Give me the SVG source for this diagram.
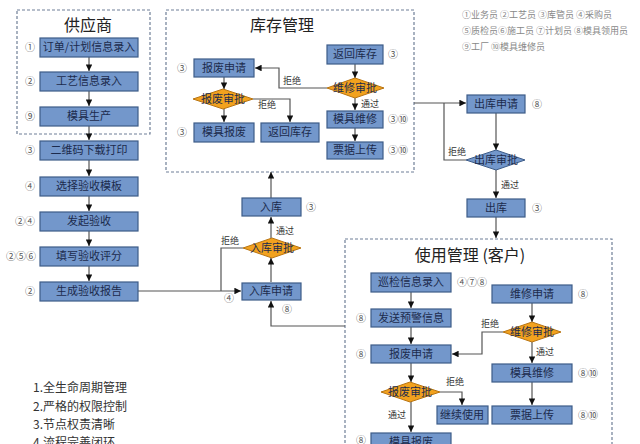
<svg xmlns="http://www.w3.org/2000/svg" width="640" height="444" viewBox="0 0 640 444">
<style>
text{font-family:"Noto Sans CJK SC","Noto Sans",sans-serif;}
.box{fill:none;stroke:#6f7f97;stroke-width:1.2;stroke-dasharray:3,2;}
.n{fill:#7397cb;stroke:#3d5c88;stroke-width:1.2;}
.d{fill:#f2a21e;stroke:#b87412;stroke-width:1;}
.db{fill:#7397cb;stroke:#3d5c88;stroke-width:1;}
.t{font-size:11px;fill:#1c2b4d;text-anchor:middle;}
.c{font-size:10px;fill:#555;}
.title{font-size:16px;fill:#222;text-anchor:middle;}
.lb{font-size:9px;fill:#333;}
.lg{font-size:9px;fill:#888;}
.list{font-size:12px;fill:#333;}
.ln{fill:none;stroke:#555;stroke-width:1.2;}
.a{marker-end:url(#ah);}
</style>
<defs>
<marker id="ah" viewBox="0 0 10 10" refX="10" refY="5" markerWidth="5.5" markerHeight="5.5" orient="auto"><path d="M0,0 L10,5 L0,10 z" fill="#111"/></marker>
</defs>
<rect width="640" height="444" fill="#fff"/>

<!-- containers -->
<g id="supplier-box">
<rect class="box" x="17" y="10" width="133" height="124"/>
<text class="title" x="88" y="31">供应商</text>
</g>
<g id="stock-box">
<rect class="box" x="166" y="10" width="248" height="162"/>
<text class="title" x="282" y="31">库存管理</text>
</g>
<g id="usage-box">
<rect class="box" x="345" y="239" width="267" height="220"/>
<text class="title" x="470" y="261">使用管理 (客户)</text>
</g>

<!-- legend -->
<g id="legend">
<text class="lg" x="462" y="18">①业务员 ②工艺员 ③库管员 ④采购员</text>
<text class="lg" x="462" y="34">⑤质检员⑥施工员 ⑦计划员 ⑧模具领用员</text>
<text class="lg" x="462" y="50">⑨工厂 ⑩模具维修员</text>
</g>

<g id="features">
<text class="list" x="33" y="392">1.全生命周期管理</text>
<text class="list" x="33" y="411">2.严格的权限控制</text>
<text class="list" x="33" y="429">3.节点权责清晰</text>
<text class="list" x="33" y="447">4.流程完善闭环</text>
</g>

<!-- connectors -->
<g id="connectors">
<path class="ln a" d="M89,57 V71"/>
<path class="ln a" d="M89,91 V106"/>
<path class="ln a" d="M89,126 V140"/>
<path class="ln a" d="M89,160 V176"/>
<path class="ln a" d="M89,196 V211"/>
<path class="ln a" d="M89,231 V246"/>
<path class="ln a" d="M89,266 V281"/>
<path class="ln a" d="M138,291 H241"/>
<path class="ln" d="M243,248 H221 V291"/>
<path class="ln a" d="M271,282 V258"/>
<path class="ln a" d="M271,238 V217"/>
<path class="ln a" d="M271,198 V172"/>
<path class="ln a" d="M345,326 H271 V301"/>
<!-- stock -->
<path class="ln a" d="M355,64 V78"/>
<path class="ln a" d="M355,98 V110"/>
<path class="ln a" d="M355,128 V141"/>
<path class="ln a" d="M327,88 H279 V68 H255"/>
<path class="ln a" d="M224,77 V89"/>
<path class="ln a" d="M224,109 V122"/>
<path class="ln a" d="M253,99 H290 V122"/>
<path class="ln a" d="M414,103 H466"/>
<path class="ln a" d="M496,113 V150"/>
<path class="ln" d="M466,160 H444 V103"/>
<path class="ln a" d="M496,170 V198"/>
<path class="ln a" d="M496,217 V238"/>
<!-- usage -->
<path class="ln a" d="M411,292 V308"/>
<path class="ln a" d="M411,327 V344"/>
<path class="ln a" d="M532,303 V322"/>
<path class="ln a" d="M503,332 H482 V354 H452"/>
<path class="ln a" d="M532,342 V363"/>
<path class="ln a" d="M532,382 V405"/>
<path class="ln a" d="M411,363 V382"/>
<path class="ln a" d="M440,392 H462 V405"/>
<path class="ln a" d="M411,402 V432"/>
<text class="lb" x="221" y="244">拒绝</text>
<text class="lb" x="276" y="234">通过</text>
<text class="lb" x="258" y="108">拒绝</text>
<text class="lb" x="283" y="84">拒绝</text>
<text class="lb" x="361" y="107">通过</text>
<text class="lb" x="448" y="155">拒绝</text>
<text class="lb" x="501" y="188">通过</text>
<text class="lb" x="481" y="327">拒绝</text>
<text class="lb" x="536" y="355">通过</text>
<text class="lb" x="446" y="385">拒绝</text>
<text class="lb" x="388" y="418">通过</text>
<text class="c" x="224" y="302">④</text>
<text class="c" x="282" y="313">⑧</text>
</g>

<!-- supplier column -->
<g id="n-order"><rect class="n" x="40" y="38" width="98" height="19"/><text class="t" x="89" y="51">订单/计划信息录入</text><text class="c" x="25" y="51">①</text></g>
<g id="n-craft"><rect class="n" x="40" y="72" width="98" height="19"/><text class="t" x="89" y="85">工艺信息录入</text><text class="c" x="25" y="85">②</text></g>
<g id="n-produce"><rect class="n" x="40" y="107" width="98" height="19"/><text class="t" x="89" y="120">模具生产</text><text class="c" x="25" y="120">⑨</text></g>
<g id="n-qr"><rect class="n" x="40" y="141" width="98" height="19"/><text class="t" x="89" y="154">二维码下载打印</text><text class="c" x="25" y="154">③</text></g>
<g id="n-template"><rect class="n" x="40" y="177" width="98" height="19"/><text class="t" x="89" y="190">选择验收模板</text><text class="c" x="25" y="190">④</text></g>
<g id="n-start"><rect class="n" x="40" y="212" width="98" height="19"/><text class="t" x="89" y="225">发起验收</text><text class="c" x="15" y="225">②④</text></g>
<g id="n-score"><rect class="n" x="40" y="247" width="98" height="19"/><text class="t" x="89" y="260">填写验收评分</text><text class="c" x="6" y="260">②⑤⑥</text></g>
<g id="n-report"><rect class="n" x="40" y="282" width="98" height="19"/><text class="t" x="89" y="295">生成验收报告</text><text class="c" x="25" y="295">②</text></g>

<!-- inbound -->
<g id="n-in-apply"><rect class="n" x="242" y="283" width="59" height="17"/><text class="t" x="271" y="295">入库申请</text></g>
<g id="n-in-approve"><polygon class="d" points="243,248 272,238 301,248 272,258"/><text class="t" x="272" y="252">入库审批</text></g>
<g id="n-in"><rect class="n" x="242" y="198" width="59" height="18"/><text class="t" x="271" y="211">入库</text><text class="c" x="306" y="211">③</text></g>

<!-- stock -->
<g id="n-s-scrap-apply"><rect class="n" x="194" y="59" width="60" height="18"/><text class="t" x="224" y="72">报废申请</text><text class="c" x="177" y="72">③</text></g>
<g id="n-s-scrap-approve"><polygon class="d" points="193,99 223,89 253,99 223,109"/><text class="t" x="223" y="103">报废审批</text></g>
<g id="n-s-scrap"><rect class="n" x="194" y="123" width="60" height="19"/><text class="t" x="224" y="136">模具报废</text><text class="c" x="177" y="136">③</text></g>
<g id="n-s-return2"><rect class="n" x="261" y="123" width="58" height="19"/><text class="t" x="290" y="136">返回库存</text></g>
<g id="n-s-return"><rect class="n" x="327" y="45" width="56" height="19"/><text class="t" x="355" y="58">返回库存</text><text class="c" x="388" y="58">③</text></g>
<g id="n-s-repair-approve"><polygon class="d" points="327,88 355,78 384,88 355,98"/><text class="t" x="355" y="92">维修审批</text></g>
<g id="n-s-repair"><rect class="n" x="327" y="111" width="56" height="17"/><text class="t" x="355" y="123">模具维修</text><text class="c" x="388" y="123">③⑩</text></g>
<g id="n-s-upload"><rect class="n" x="327" y="142" width="56" height="17"/><text class="t" x="355" y="154">票据上传</text><text class="c" x="388" y="154">③⑩</text></g>

<!-- outbound -->
<g id="n-out-apply"><rect class="n" x="467" y="95" width="58" height="18"/><text class="t" x="496" y="108">出库申请</text><text class="c" x="532" y="108">⑧</text></g>
<g id="n-out-approve"><polygon class="db" points="466,160 496,150 525,160 496,170"/><text class="t" x="496" y="164">出库审批</text></g>
<g id="n-out"><rect class="n" x="467" y="199" width="58" height="18"/><text class="t" x="496" y="212">出库</text><text class="c" x="532" y="212">③</text></g>

<!-- usage -->
<g id="n-u-inspect"><rect class="n" x="371" y="273" width="80" height="19"/><text class="t" x="411" y="286">巡检信息录入</text><text class="c" x="457" y="286">④⑦⑧</text></g>
<g id="n-u-warn"><rect class="n" x="371" y="309" width="80" height="18"/><text class="t" x="411" y="322">发送预警信息</text><text class="c" x="356" y="322">⑧</text></g>
<g id="n-u-scrap-apply"><rect class="n" x="371" y="345" width="80" height="18"/><text class="t" x="411" y="358">报废申请</text><text class="c" x="356" y="358">⑧</text></g>
<g id="n-u-scrap-approve"><polygon class="d" points="381,392 410,382 440,392 410,402"/><text class="t" x="410" y="396">报废审批</text></g>
<g id="n-u-continue"><rect class="n" x="437" y="406" width="51" height="18"/><text class="t" x="462" y="419">继续使用</text></g>
<g id="n-u-scrap"><rect class="n" x="371" y="433" width="80" height="18"/><text class="t" x="411" y="446">模具报废</text><text class="c" x="356" y="444">⑧</text></g>
<g id="n-u-repair-apply"><rect class="n" x="492" y="285" width="80" height="18"/><text class="t" x="532" y="298">维修申请</text><text class="c" x="578" y="298">⑧</text></g>
<g id="n-u-repair-approve"><polygon class="d" points="503,332 532,322 561,332 532,342"/><text class="t" x="532" y="336">维修审批</text></g>
<g id="n-u-repair"><rect class="n" x="492" y="364" width="80" height="18"/><text class="t" x="532" y="377">模具维修</text><text class="c" x="578" y="377">⑧⑩</text></g>
<g id="n-u-upload"><rect class="n" x="492" y="406" width="80" height="18"/><text class="t" x="532" y="419">票据上传</text><text class="c" x="578" y="419">⑧⑩</text></g>
</svg>
